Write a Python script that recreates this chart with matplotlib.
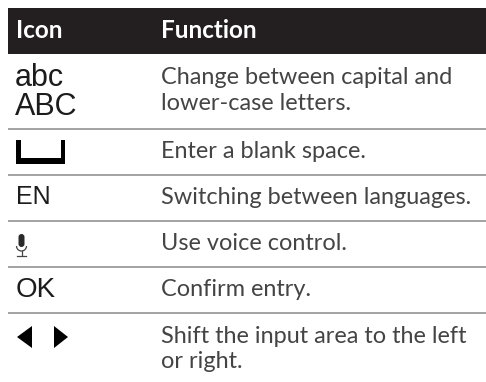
import matplotlib
matplotlib.use('Agg')
import matplotlib.pyplot as plt
from matplotlib.patches import Rectangle, FancyBboxPatch, Arc, Polygon

headers = ['Icon', 'Function']
icons = ['abc\nABC', 'space', 'EN', 'mic', 'OK', 'arrows']
functions = ['Change between capital and\nlower-case letters.',
             'Enter a blank space.',
             'Switching between languages.',
             'Use voice control.',
             'Confirm entry.',
             'Shift the input area to the left\nor right.']
row_bottoms = [129, 175, 221, 267, 313, 382]
row_lines = [True, True, True, True, True, False]

plt.rcParams['font.family'] = ['Lato', 'DejaVu Sans']

fig = plt.figure(figsize=(4.86, 3.82), dpi=100)
ax = fig.add_axes([0, 0, 1, 1])
ax.set_xlim(0, 486)
ax.set_ylim(382, 0)
ax.axis('off')

ax.add_patch(Rectangle((8, 8), 478, 46, color='#231f20', lw=0))
ax.text(16, 30, headers[0], color='white', fontsize=17.5, fontweight='bold', va='center')
ax.text(161, 30, headers[1], color='white', fontsize=17.5, fontweight='bold', va='center')

top = 54
for icon, func, bottom, has_line in zip(icons, functions, row_bottoms, row_lines):
    mid = (top + bottom) / 2
    if has_line:
        ax.plot([8, 486], [bottom, bottom], color='#8a8a8a', lw=1.1, solid_capstyle='butt')

    # function text
    if bottom == 382:
        ty = top + 36
    else:
        ty = mid - 1
    ax.text(161, ty, func, color='#444444', fontsize=16.9, va='center', linespacing=1.25)

    # icon column
    if icon == 'abc\nABC':
        ax.text(15, mid + 1, icon, family='Liberation Sans', color='#1c1c1c', fontsize=22,
                va='center', linespacing=0.95)
    elif icon == 'space':
        ax.add_patch(Rectangle((16, 140), 4.5, 24, color='black', lw=0))
        ax.add_patch(Rectangle((60.5, 140), 4.5, 24, color='black', lw=0))
        ax.add_patch(Rectangle((16, 158), 49, 6, color='black', lw=0))
    elif icon == 'EN':
        ax.text(16, mid - 1, icon, family='Liberation Sans', color='#1c1c1c', fontsize=18, va='center')
    elif icon == 'mic':
        ax.add_patch(FancyBboxPatch((18.5, 234), 6, 13, boxstyle='round,pad=0,rounding_size=3',
                                    color='#2a2a2a', lw=0))
        ax.add_patch(Arc((21.5, 246), 10, 10, theta1=0, theta2=180, color='#444444', lw=0.9))
        ax.plot([21.5, 21.5], [251, 255], color='#444444', lw=0.9)
        ax.plot([17, 26], [255.5, 255.5], color='#444444', lw=0.9)
    elif icon == 'OK':
        ax.text(16, mid, icon, family='Liberation Sans', color='#1c1c1c', fontsize=20, va='center')
    elif icon == 'arrows':
        ax.add_patch(Polygon([(17, 337), (32, 326), (32, 348)], color='black', lw=0))
        ax.add_patch(Polygon([(54, 326), (68, 337), (54, 348)], color='black', lw=0))
    top = bottom

fig.savefig('out.png', dpi=100)
